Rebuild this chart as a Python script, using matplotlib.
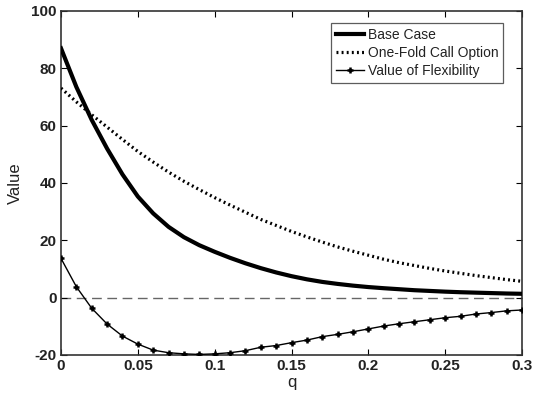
import numpy as np
import matplotlib
matplotlib.use("Agg")
import matplotlib.pyplot as plt

plt.rcParams['font.family'] = ['Liberation Sans', 'DejaVu Sans']
plt.rcParams['axes.unicode_minus'] = False

# Volatility parameter q, sampled every 0.01
q = [0.00, 0.01, 0.02, 0.03, 0.04, 0.05, 0.06, 0.07, 0.08, 0.09,
     0.10, 0.11, 0.12, 0.13, 0.14, 0.15, 0.16, 0.17, 0.18, 0.19,
     0.20, 0.21, 0.22, 0.23, 0.24, 0.25, 0.26, 0.27, 0.28, 0.29, 0.30]

base_case = [87.0, 73.5, 62.0, 52.0, 43.0, 35.3, 29.4, 24.7, 21.1, 18.3,
             16.0, 13.9, 12.0, 10.3, 8.8, 7.5, 6.4, 5.5, 4.8, 4.2,
             3.7, 3.3, 2.95, 2.6, 2.35, 2.1, 1.9, 1.75, 1.6, 1.45, 1.35]

one_fold_call = [73.1, 68.3, 63.8, 59.5, 55.2, 51.0, 47.3, 43.8, 40.6, 37.7,
                 34.9, 32.3, 29.8, 27.3, 25.2, 23.1, 21.2, 19.4, 17.7, 16.2,
                 14.8, 13.4, 12.2, 11.2, 10.2, 9.3, 8.5, 7.7, 7.0, 6.3, 5.7]

value_of_flexibility = [13.7, 3.8, -3.7, -9.2, -13.4, -16.2, -18.3, -19.2, -19.6, -19.8,
                        -19.6, -19.2, -18.5, -17.3, -16.7, -15.7, -14.8, -13.6, -12.8, -11.9,
                        -10.9, -9.9, -9.1, -8.4, -7.7, -7.0, -6.5, -5.7, -5.2, -4.6, -4.3]

x_ticks = [0, 0.05, 0.1, 0.15, 0.2, 0.25, 0.3]
x_tick_labels = ["0", "0.05", "0.1", "0.15", "0.2", "0.25", "0.3"]
y_ticks = [-20, 0, 20, 40, 60, 80, 100]

fig = plt.figure(figsize=(5.38, 3.96), dpi=100)
ax = fig.add_axes([61 / 538, 1 - 355 / 396, (522 - 61) / 538, (355 - 11) / 396])

# zero reference line
ax.axhline(0, color="#666666", lw=1.0, dashes=(7, 4), zorder=1)

ax.plot(q, base_case, color="black", lw=3.0, label="Base Case", zorder=3,
        solid_joinstyle="round")
ax.plot(q, one_fold_call, color="black", lw=2.3, linestyle=(0, (0.6, 1.0)),
        label="One-Fold Call Option", zorder=3)
ax.plot(q, value_of_flexibility, color="black", lw=1.0, marker="+", ms=5,
        mew=1.8, label="Value of Flexibility", zorder=3)

ax.set_xlim(0, 0.3)
ax.set_ylim(-20, 100)
ax.set_xticks(x_ticks)
ax.set_xticklabels(x_tick_labels)
ax.set_yticks(y_ticks)
ax.tick_params(direction="in", top=True, right=True, length=4, width=0.8,
               labelsize=11, colors="black", pad=3)
for lbl in ax.get_xticklabels() + ax.get_yticklabels():
    lbl.set_fontweight("bold")
    lbl.set_color("#222222")
for s in ax.spines.values():
    s.set_linewidth(1.2)
    s.set_color("#333333")

ax.set_xlabel("q", fontsize=12, labelpad=1, color="#222222")
ax.set_ylabel("Value", fontsize=12, labelpad=6, color="#222222")

leg = ax.legend(loc="upper right", bbox_to_anchor=(0.9588, 0.965), fontsize=10,
                frameon=True, fancybox=False, edgecolor="#333333",
                handlelength=2.0, handletextpad=0.25, borderpad=0.35,
                labelspacing=0.3, borderaxespad=0)
leg.get_frame().set_linewidth(0.9)
for t in leg.get_texts():
    t.set_color("#222222")

fig.savefig("out.png", dpi=100)
